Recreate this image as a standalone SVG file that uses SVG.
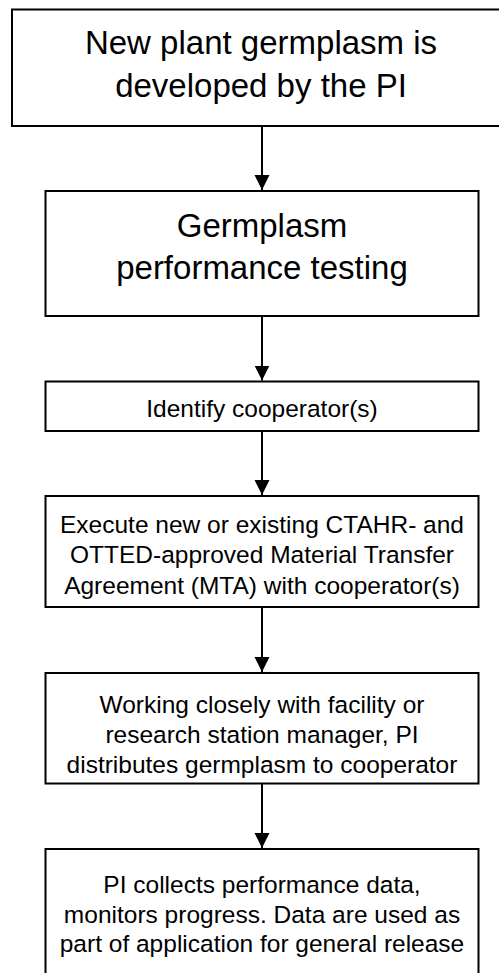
<svg xmlns="http://www.w3.org/2000/svg" width="499" height="973" viewBox="0 0 499 973">
  <style>
    .box { fill: #ffffff; stroke: #000000; stroke-width: 2; }
    .big { font-family: "Liberation Sans", Arial, sans-serif; font-size: 33px; fill: #000000; text-anchor: middle; }
    .small { font-family: "Liberation Sans", Arial, sans-serif; font-size: 24.5px; fill: #000000; text-anchor: middle; }
    .link { stroke: #000000; stroke-width: 2; fill: none; marker-end: url(#head); }
  </style>
  <defs>
    <marker id="head" markerUnits="userSpaceOnUse" markerWidth="16" markerHeight="16" viewBox="0 0 16 16" refX="15" refY="8" orient="auto">
      <path d="M0,0.5 L15,8 L0,15.5 Z" fill="#000000"/>
    </marker>
  </defs>
  <rect width="499" height="973" fill="#ffffff"/>

  <g id="connectors">
    <line class="link" x1="262" y1="126" x2="262" y2="190"/>
    <line class="link" x1="262" y1="316" x2="262" y2="380.5"/>
    <line class="link" x1="262" y1="431" x2="262" y2="495"/>
    <line class="link" x1="262" y1="607" x2="262" y2="672"/>
    <line class="link" x1="262" y1="783.5" x2="262" y2="848"/>
  </g>

  <g id="develop">
    <rect class="box" x="12" y="9.5" width="500" height="116.5"/>
    <text class="big" x="261" y="54">New plant germplasm is</text>
    <text class="big" x="261" y="97">developed by the PI</text>
  </g>

  <g id="testing">
    <rect class="box" x="45.5" y="191" width="433" height="125"/>
    <text class="big" x="262" y="237">Germplasm</text>
    <text class="big" x="262" y="279">performance testing</text>
  </g>

  <g id="identify">
    <rect class="box" x="45.5" y="381.5" width="433" height="49.5"/>
    <text class="small" x="262" y="416.5">Identify cooperator(s)</text>
  </g>

  <g id="agreement">
    <rect class="box" x="45.5" y="496" width="433" height="111"/>
    <text class="small" x="262" y="533">Execute new or existing CTAHR- and</text>
    <text class="small" x="262" y="563">OTTED-approved Material Transfer</text>
    <text class="small" x="262" y="593.5">Agreement (MTA) with cooperator(s)</text>
  </g>

  <g id="distribute">
    <rect class="box" x="45.5" y="673" width="433" height="110.5"/>
    <text class="small" x="262" y="713">Working closely with facility or</text>
    <text class="small" x="262" y="743">research station manager, PI</text>
    <text class="small" x="262" y="773">distributes germplasm to cooperator</text>
  </g>

  <g id="collect">
    <rect class="box" x="45.5" y="849" width="433" height="140"/>
    <text class="small" x="262" y="893">PI collects performance data,</text>
    <text class="small" x="262" y="923">monitors progress. Data are used as</text>
    <text class="small" x="262" y="952">part of application for general release</text>
  </g>
</svg>
